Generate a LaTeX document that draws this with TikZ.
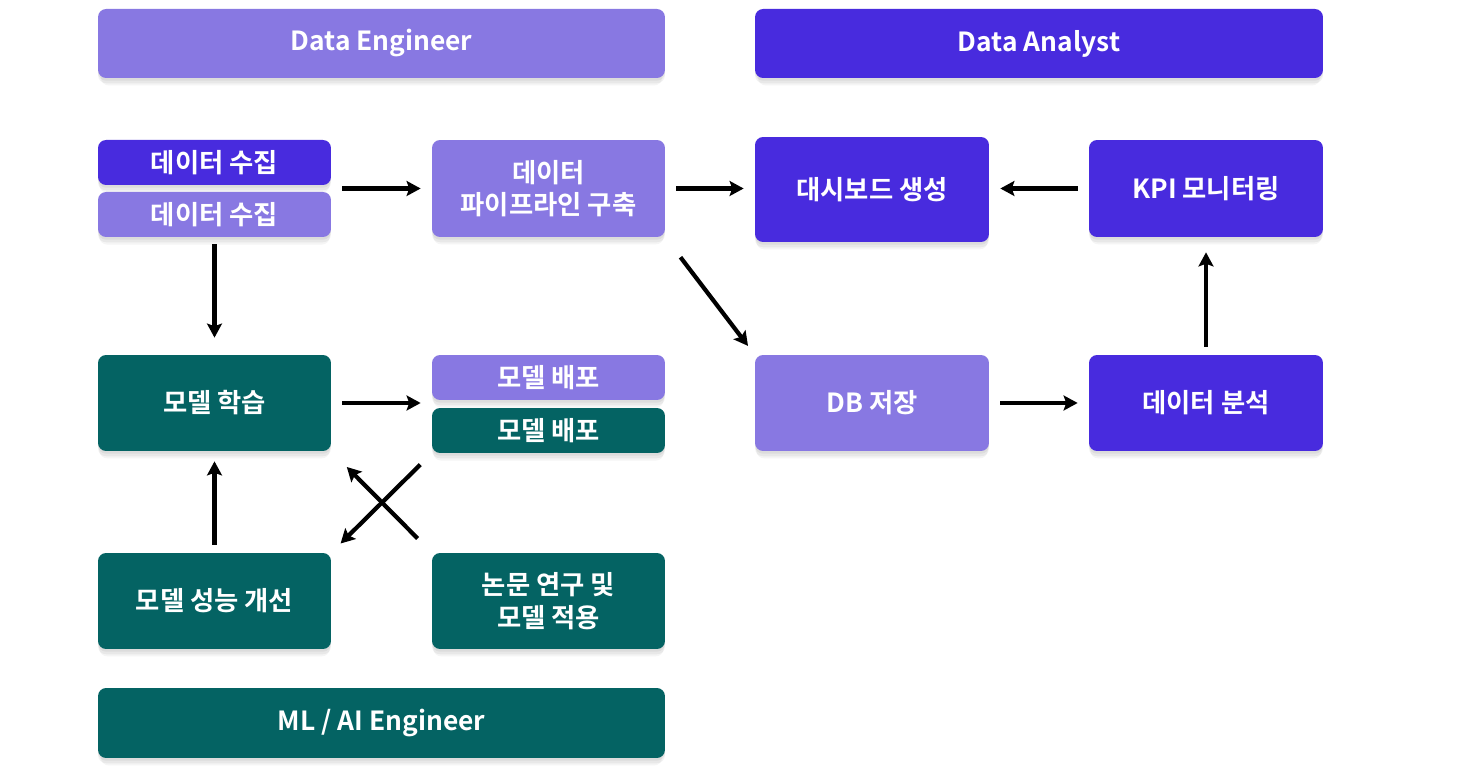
\documentclass[tikz,border=0pt]{standalone}
\usepackage{fontspec}
\setmainfont{Noto Sans CJK KR}[BoldFont={* Bold}]
\usetikzlibrary{arrows.meta,shadows}
\definecolor{lightpurple}{HTML}{8878E2}
\definecolor{darkpurple}{HTML}{482BDE}
\definecolor{tealgreen}{HTML}{046363}
\tikzset{
  card/.style={rounded corners=0.16cm, text=white, font=\bfseries\fontsize{15pt}{18.5pt}\selectfont,
    align=center, inner sep=0pt,
    general shadow={fill=black, opacity=0.05, shadow yshift=-1.5pt},
    general shadow={fill=black, opacity=0.05, shadow yshift=-3pt},
    general shadow={fill=black, opacity=0.04, shadow yshift=-4.5pt, shadow scale=0.99}},
  lightbox/.style={card, fill=lightpurple},
  darkbox/.style={card, fill=darkpurple},
  tealbox/.style={card, fill=tealgreen},
  flow/.style={line width=2.4pt, -{Stealth[length=8pt,width=8.5pt,inset=1.5pt]}, shorten <=0.22cm, shorten >=0.22cm},
}
\begin{document}
\begin{tikzpicture}[x=0.02cm, y=-0.02cm]
  \useasboundingbox[fill=white] (0,0) rectangle (1478,766);

  % role headers
  \node[lightbox, minimum width=11.34cm, minimum height=1.38cm] (eng) at (381.5,43.5) {Data Engineer};
  \node[darkbox, minimum width=11.36cm, minimum height=1.38cm] (analyst) at (1039,43.5) {Data Analyst};
  \node[tealbox, minimum width=11.34cm, minimum height=1.4cm] (mleng) at (381.5,723) {ML / AI Engineer};

  % engineer row
  \node[darkbox, minimum width=4.66cm, minimum height=0.9cm] (collA) at (214.5,162.5) {데이터 수집};
  \node[lightbox, minimum width=4.66cm, minimum height=0.9cm] (collB) at (214.5,214.5) {데이터 수집};
  \node[lightbox, minimum width=4.66cm, minimum height=1.94cm] (pipe) at (548.5,188.5) {데이터\\파이프라인 구축};

  % analyst boxes
  \node[darkbox, minimum width=4.68cm, minimum height=2.1cm] (dash) at (872,189.5) {대시보드 생성};
  \node[darkbox, minimum width=4.68cm, minimum height=1.94cm] (kpi) at (1206,188.5) {KPI 모니터링};
  \node[lightbox, minimum width=4.68cm, minimum height=1.92cm] (db) at (872,403) {DB 저장};
  \node[darkbox, minimum width=4.68cm, minimum height=1.92cm] (ana) at (1206,403) {데이터 분석};

  % ml boxes
  \node[tealbox, minimum width=4.66cm, minimum height=1.92cm] (train) at (214.5,403) {모델 학습};
  \node[lightbox, minimum width=4.66cm, minimum height=0.9cm] (depA) at (548.5,377.5) {모델 배포};
  \node[tealbox, minimum width=4.66cm, minimum height=0.9cm] (depB) at (548.5,430.5) {모델 배포};
  \node[tealbox, minimum width=4.66cm, minimum height=1.92cm] (improve) at (214.5,601) {모델 성능 개선};
  \node[tealbox, minimum width=4.66cm, minimum height=1.92cm] (paper) at (548.5,601) {논문 연구 및\\모델 적용};

  % connectors
  \draw[flow] (collA.east |- pipe.west) -- (pipe.west);
  \draw[flow] (pipe.east) -- (dash.west |- pipe.east);
  \draw[flow] (kpi.west) -- (dash.east |- kpi.west);
  \draw[flow, shorten <=0.5cm] (pipe.south east) -- (db.north west);
  \draw[flow] (db.east) -- (ana.west |- db.east);
  \draw[flow, shorten <=0.16cm, shorten >=0.3cm] (ana.north) -- (kpi.south);
  \draw[flow, shorten <=0.14cm, shorten >=0.34cm] (collB.south) -- (train.north);
  \draw[flow] (train.east) -- (train.east -| depA.west);
  \draw[flow, shorten <=0.16cm, shorten >=0.2cm] (improve.north) -- (train.south);
  \draw[flow, shorten <=0.32cm, shorten >=0.26cm] (depB.south west) -- (improve.north east);
  \draw[flow, shorten <=0.4cm, shorten >=0.44cm] (paper.north west) -- (train.south east);
\end{tikzpicture}
\end{document}
